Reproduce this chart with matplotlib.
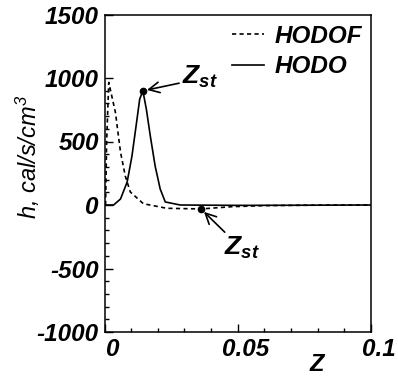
import numpy as np
import matplotlib
matplotlib.use('Agg')
import matplotlib.pyplot as plt
from matplotlib.ticker import FixedLocator
from matplotlib.transforms import ScaledTranslation

plt.rcParams['font.family'] = 'Liberation Sans'
plt.rcParams['mathtext.fontset'] = 'custom'
plt.rcParams['mathtext.bf'] = 'Liberation Sans:bold:italic'
plt.rcParams['mathtext.it'] = 'Liberation Sans:italic'
plt.rcParams['mathtext.rm'] = 'Liberation Sans:italic'

# HODO (linha cheia)
z_hodo = [0.0, 0.0034, 0.0060, 0.0085, 0.0103, 0.0122, 0.0132, 0.0144,
          0.0157, 0.0172, 0.0190, 0.0209, 0.0228, 0.0284, 0.05, 0.07, 0.1]
h_hodo = [0, 0, 47, 181, 385, 676, 833, 899,
          755, 542, 307, 126, 24, 0, -3, -2, 0]

# HODOF (tracejada)
z_hodof = [0.0004, 0.0008, 0.0016, 0.0041, 0.0060, 0.0078, 0.0097, 0.0146,
           0.0234, 0.0362, 0.048, 0.06, 0.075, 0.1]
h_hodof = [0, 500, 965, 729, 417, 228, 102, 10,
           -26, -31, -13, -5, -2, 0]

# pontos Zst
zst_hodo = (0.0144, 899)
zst_hodof = (0.0362, -31)

xticks = [0, 0.05, 0.1]
xticklabels = ['0', '0.05', '0.1']
yticks = [-1000, -500, 0, 500, 1000, 1500]
yticklabels = ['-1000', '-500', '0', '500', '1000', '1500']

fig = plt.figure(figsize=(3.98, 3.76), dpi=100)
ax = fig.add_axes([104.5/398, 1-332/376, (371-104.5)/398, (332-14.5)/376])

ax.plot(z_hodof, h_hodof, color='black', lw=1.2, linestyle=(0, (2.5, 2)), label='HODOF')
ax.plot(z_hodo, h_hodo, color='black', lw=1.2, label='HODO')
ax.plot(*zst_hodo, 'o', color='black', ms=4.5)
ax.plot(*zst_hodof, 'o', color='black', ms=4.5)

ax.set_xlim(0, 0.1)
ax.set_ylim(-1000, 1500)

for s in ax.spines.values():
    s.set_linewidth(1.1)

ax.xaxis.set_major_locator(FixedLocator(xticks))
ax.xaxis.set_minor_locator(FixedLocator(np.arange(1, 10) * 0.01))
ax.yaxis.set_major_locator(FixedLocator(yticks))
ax.yaxis.set_minor_locator(FixedLocator([v for v in range(-900, 1000, 100) if v % 500 != 0]))
ax.set_xticklabels(xticklabels)
ax.set_yticklabels(yticklabels)

ax.tick_params(which='both', direction='in', top=False, right=False, width=1.0)
ax.tick_params(which='major', length=5.5, labelsize=17.5, pad=4)
ax.tick_params(which='minor', length=3)
for lab in ax.get_xticklabels() + ax.get_yticklabels():
    lab.set_fontweight('bold')
    lab.set_fontstyle('italic')
desloc = ScaledTranslation(8/100, 0, fig.dpi_scale_trans)
for lab in ax.get_xticklabels():
    lab.set_transform(lab.get_transform() + desloc)

ax.set_xlabel('Z', fontsize=17, fontweight='bold', fontstyle='italic')
ax.xaxis.set_label_coords(0.797, -0.066)
ax.set_ylabel(r'h, cal/s/cm$^3$', fontsize=17, fontstyle='italic')
ax.yaxis.set_label_coords(-0.235, 0.55)

# anotacoes Zst
ax.annotate(r'$\mathbf{Z_{st}}$', xy=zst_hodo, xytext=(0.0358, 1005),
            fontsize=19, ha='center', va='center',
            arrowprops=dict(arrowstyle='->', color='black', lw=1.2,
                            relpos=(0.0, 0.3), shrinkA=0, shrinkB=3))
ax.annotate(r'$\mathbf{Z_{st}}$', xy=zst_hodof, xytext=(0.0516, -339),
            fontsize=19, ha='center', va='center',
            arrowprops=dict(arrowstyle='->', color='black', lw=1.2,
                            relpos=(0.1, 1.0), shrinkA=0, shrinkB=3))

ax.legend(loc='upper left', bbox_to_anchor=(232/398, 1-25/376), bbox_transform=fig.transFigure,
          frameon=False, borderpad=0, borderaxespad=0, handlelength=1.3,
          handletextpad=0.45, labelspacing=0.3,
          prop=dict(family='Liberation Sans', weight='bold', style='italic', size=17.5))

fig.savefig('out.png', dpi=100)
